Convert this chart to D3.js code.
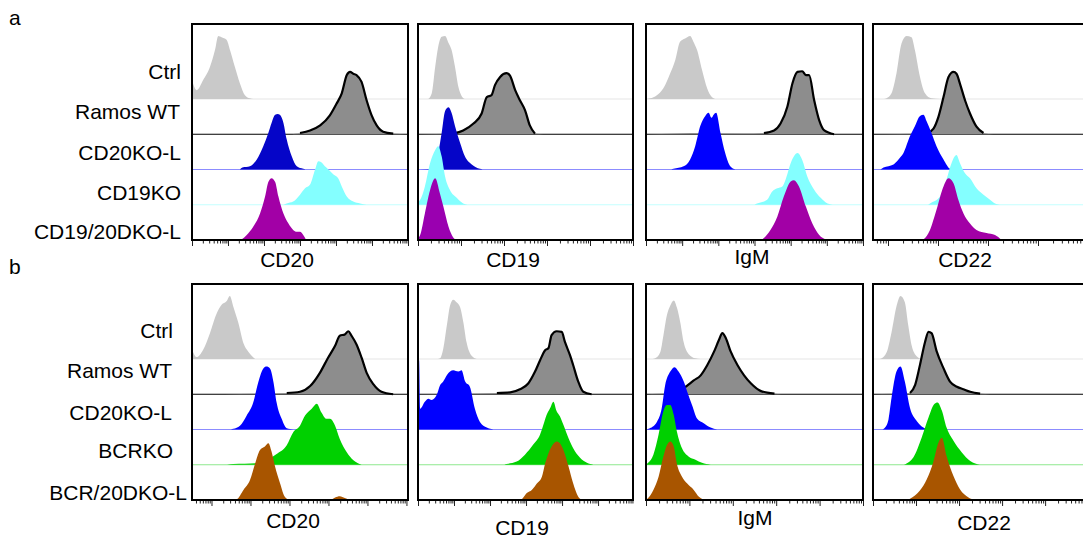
<!DOCTYPE html>
<html><head><meta charset="utf-8">
<script src="https://cdn.jsdelivr.net/npm/d3@7"></script>
<style>body{margin:0;background:#fff}text{font-family:"Liberation Sans",Arial,Helvetica,sans-serif;fill:#000}</style>
</head><body>
<script>
// ---------- categories / labels ----------
const lanesA = ["Ctrl","Ramos WT","CD20KO-L","CD19KO","CD19/20DKO-L"];
const lanesB = ["Ctrl","Ramos WT","CD20KO-L","BCRKO","BCR/20DKO-L"];
const markers = ["CD20","CD19","IgM","CD22"];
// x domains in log10 fluorescence units per panel
const domainsA = [[1,7],[2,7],[1,7],[1.7,6.02]];
const domainsB = [[1.5,7.04],[1,6.97],[2,7],[2,7.02]];
const minorMultipliers = [2,3,4,5,6,7,8,9];

// ---------- histograms: [log10 intensity, % of max] ----------
// Row a, CD20
const a1_ctrl = [[1.0,30],[1.13,14],[1.31,30],[1.50,51],[1.64,78],[1.73,100],[1.82,98],[1.96,94],[2.06,77],[2.19,51],[2.33,25],[2.47,6],[2.61,1],[2.70,0]];
const a1_ramos = [[1.0,0],[3.72,0],[4.00,2],[4.28,6],[4.56,14],[4.83,30],[5.02,49],[5.16,65],[5.30,94],[5.39,99],[5.48,96],[5.57,94],[5.71,83],[5.85,54],[5.99,30],[6.13,14],[6.31,4],[6.59,1],[7.0,0]];
const a1_cd20ko = [[2.33,0],[2.40,3],[2.61,5],[2.80,16],[2.98,37],[3.12,58],[3.21,74],[3.31,87],[3.38,88],[3.44,87],[3.54,74],[3.63,48],[3.77,21],[3.91,5],[4.09,1],[4.15,0]];
const a1_cd19ko = [[3.55,0],[3.63,2],[3.81,5],[4.00,16],[4.14,26],[4.28,32],[4.42,56],[4.51,69],[4.60,67],[4.69,61],[4.79,56],[4.93,48],[5.06,42],[5.16,29],[5.30,13],[5.48,5],[5.67,2],[5.85,0]];
const a1_dko = [[2.33,0],[2.38,1],[2.52,8],[2.70,21],[2.89,42],[3.03,69],[3.12,92],[3.21,98],[3.31,92],[3.40,69],[3.54,42],[3.68,26],[3.81,16],[3.91,13],[4.00,13],[4.09,8],[4.17,0]];
// Row a, CD19
const a2_ctrl = [[2.24,0],[2.32,9],[2.40,51],[2.47,83],[2.55,99],[2.63,100],[2.71,89],[2.78,78],[2.86,51],[2.94,19],[3.02,4],[3.09,0]];
const a2_ramos = [[2.0,0],[2.82,1],[3.05,6],[3.29,17],[3.48,33],[3.60,59],[3.71,62],[3.79,78],[3.91,91],[4.06,97],[4.14,93],[4.26,70],[4.37,54],[4.49,38],[4.60,14],[4.72,1],[4.91,0],[7.0,0]];
const a2_cd20ko = [[2.05,0],[2.36,1],[2.47,26],[2.55,58],[2.63,93],[2.71,99],[2.78,90],[2.86,69],[2.98,42],[3.09,21],[3.25,8],[3.44,1],[3.50,0]];
const a2_cd19ko = [[2.0,5],[2.05,8],[2.16,29],[2.28,66],[2.40,87],[2.47,93],[2.55,77],[2.63,45],[2.74,24],[2.90,11],[3.05,2],[3.15,0]];
const a2_dko = [[2.0,3],[2.05,8],[2.16,42],[2.28,79],[2.40,98],[2.51,74],[2.59,53],[2.71,21],[2.82,4],[2.90,0]];
// Row a, IgM
const a3_ctrl = [[1.0,0],[1.11,1],[1.30,6],[1.48,17],[1.67,41],[1.81,62],[1.94,91],[2.08,96],[2.22,100],[2.31,91],[2.41,78],[2.55,46],[2.69,17],[2.82,3],[2.92,0]];
const a3_ramos = [[1.0,0],[1.85,1],[2.22,2],[3.70,1],[4.26,2],[4.54,6],[4.72,17],[4.91,44],[5.05,81],[5.19,99],[5.32,100],[5.42,94],[5.51,94],[5.65,54],[5.79,22],[5.93,6],[6.20,0],[7.0,0]];
const a3_cd20ko = [[1.70,0],[1.76,1],[2.04,5],[2.22,16],[2.36,37],[2.50,69],[2.64,85],[2.73,90],[2.81,82],[2.87,87],[2.94,90],[3.06,58],[3.19,26],[3.33,5],[3.47,0]];
const a3_cd19ko = [[4.00,0],[4.07,2],[4.35,8],[4.49,21],[4.63,26],[4.77,29],[4.86,40],[5.00,66],[5.19,82],[5.32,71],[5.46,45],[5.65,24],[5.83,11],[6.02,2],[6.16,0]];
const a3_dko = [[4.20,0],[4.26,3],[4.44,16],[4.63,37],[4.81,69],[5.00,93],[5.09,95],[5.23,85],[5.42,53],[5.60,26],[5.79,8],[5.97,1],[6.05,0]];
// Row a, CD22
const a4_ctrl = [[1.92,0],[1.97,1],[2.07,9],[2.17,41],[2.27,88],[2.37,100],[2.47,98],[2.54,77],[2.64,35],[2.74,9],[2.87,1],[3.04,0]];
const a4_ramos = [[1.7,0],[2.77,1],[2.91,9],[3.01,28],[3.11,59],[3.21,91],[3.31,99],[3.37,96],[3.44,80],[3.54,54],[3.64,33],[3.77,12],[3.91,2],[4.11,0],[6.1,0]];
const a4_cd20ko = [[1.85,0],[1.91,3],[2.11,8],[2.21,16],[2.31,26],[2.44,53],[2.54,69],[2.64,85],[2.71,87],[2.77,77],[2.87,58],[2.97,37],[3.11,16],[3.24,1],[3.28,0]];
const a4_cd19ko = [[2.80,0],[2.84,2],[3.04,13],[3.17,40],[3.27,66],[3.37,79],[3.44,66],[3.54,50],[3.64,42],[3.77,26],[3.91,16],[4.04,8],[4.14,2],[4.24,0]];
const a4_dko = [[2.68,0],[2.71,1],[2.84,16],[2.97,48],[3.11,85],[3.21,98],[3.31,90],[3.41,63],[3.51,42],[3.64,26],[3.77,16],[3.97,11],[4.14,8],[4.27,0]];
// Row b, CD20
const b1_ctrl = [[1.5,15],[1.62,3],[1.79,15],[1.96,41],[2.13,72],[2.26,86],[2.39,92],[2.47,100],[2.56,83],[2.69,57],[2.82,25],[2.94,12],[3.12,0]];
const b1_ramos = [[1.5,0],[3.93,2],[4.27,4],[4.53,13],[4.78,34],[4.99,58],[5.17,77],[5.29,93],[5.42,95],[5.51,100],[5.59,93],[5.72,79],[5.85,58],[5.98,34],[6.15,16],[6.36,4],[6.66,0],[7.04,0]];
const b1_cd20ko = [[2.50,0],[2.56,1],[2.73,6],[2.90,22],[3.07,43],[3.20,75],[3.33,97],[3.41,100],[3.50,97],[3.59,75],[3.67,43],[3.80,17],[3.93,2],[4.10,0]];
const b1_bcrko = [[2.40,0],[2.56,1],[3.24,3],[3.50,10],[3.67,17],[3.93,31],[4.10,52],[4.27,62],[4.40,78],[4.57,89],[4.70,97],[4.82,83],[4.95,73],[5.04,73],[5.17,62],[5.29,41],[5.47,20],[5.64,7],[5.85,0]];
const b1_dko = [[2.60,0],[2.65,1],[2.82,16],[2.99,32],[3.12,58],[3.24,79],[3.37,85],[3.46,90],[3.54,77],[3.63,53],[3.76,26],[3.88,5],[4.01,0],[5.04,0],[5.17,4],[5.29,6],[5.42,3],[5.55,0]];
// Row b, CD19
const b2_ctrl = [[1.55,0],[1.61,1],[1.70,16],[1.80,53],[1.89,85],[1.98,94],[2.07,90],[2.17,82],[2.26,58],[2.35,26],[2.49,5],[2.63,0]];
const b2_ramos = [[1.0,0],[3.19,2],[3.56,3],[3.83,8],[4.06,17],[4.25,36],[4.39,54],[4.53,70],[4.62,73],[4.71,94],[4.85,100],[4.99,99],[5.08,83],[5.22,62],[5.31,46],[5.45,20],[5.59,4],[5.82,0],[6.97,0]];
const b2_cd20ko = [[1.0,30],[1.03,110],[1.06,33],[1.19,44],[1.29,49],[1.38,47],[1.52,55],[1.61,70],[1.70,76],[1.80,86],[1.89,92],[1.98,94],[2.12,92],[2.21,94],[2.31,76],[2.44,68],[2.58,33],[2.72,12],[2.91,3],[3.09,0]];
const b2_bcrko = [[3.40,0],[3.46,1],[3.74,5],[3.97,16],[4.20,32],[4.39,48],[4.48,63],[4.57,79],[4.67,90],[4.76,100],[4.85,85],[4.94,77],[5.04,63],[5.18,42],[5.31,26],[5.50,11],[5.69,3],[5.87,0]];
const b2_dko = [[3.85,0],[3.88,1],[4.02,11],[4.16,16],[4.30,26],[4.44,37],[4.53,58],[4.62,74],[4.71,85],[4.85,93],[4.94,90],[5.04,79],[5.18,53],[5.31,26],[5.45,5],[5.55,0]];
// Row b, IgM
const b3_ctrl = [[2.15,0],[2.21,1],[2.33,11],[2.40,37],[2.48,69],[2.56,85],[2.64,93],[2.71,82],[2.79,58],[2.87,26],[2.98,8],[3.14,1],[3.26,0]];
const b3_ramos = [[2.0,0],[2.56,2],[2.87,10],[3.10,22],[3.26,30],[3.41,46],[3.57,68],[3.68,86],[3.76,97],[3.84,89],[3.95,68],[4.11,46],[4.26,30],[4.42,17],[4.65,5],[4.96,1],[5.12,0],[7.0,0]];
const b3_cd20ko = [[2.0,0],[2.09,2],[2.25,12],[2.36,33],[2.44,70],[2.56,92],[2.66,99],[2.75,92],[2.87,76],[2.95,60],[3.06,39],[3.18,17],[3.33,10],[3.49,3],[3.64,0]];
const b3_bcrko = [[2.0,0],[2.05,3],[2.17,16],[2.29,48],[2.40,85],[2.48,95],[2.56,95],[2.64,79],[2.71,53],[2.83,26],[2.98,13],[3.14,8],[3.29,3],[3.49,0]];
const b3_dko = [[2.0,0],[2.05,3],[2.17,16],[2.29,37],[2.40,69],[2.48,87],[2.56,93],[2.64,85],[2.71,58],[2.83,37],[2.95,26],[3.10,16],[3.22,5],[3.37,0]];
// Row b, CD22
const b4_ctrl = [[2.15,0],[2.20,1],[2.32,11],[2.43,42],[2.55,85],[2.64,100],[2.74,90],[2.82,53],[2.90,21],[3.02,4],[3.13,0]];
const b4_ramos = [[2.0,0],[2.86,2],[2.98,15],[3.09,46],[3.21,83],[3.29,99],[3.36,97],[3.48,68],[3.64,41],[3.79,20],[3.95,12],[4.10,8],[4.26,4],[4.49,1],[4.72,0],[7.02,0]];
const b4_cd20ko = [[2.22,0],[2.28,3],[2.36,16],[2.43,50],[2.55,93],[2.64,100],[2.74,76],[2.86,34],[3.02,13],[3.17,3],[3.29,0]];
const b4_bcrko = [[2.72,0],[2.78,2],[2.94,12],[3.13,43],[3.29,75],[3.42,96],[3.50,99],[3.60,86],[3.71,59],[3.87,38],[4.06,20],[4.26,6],[4.49,0]];
const b4_dko = [[2.80,0],[2.86,2],[3.09,15],[3.25,33],[3.40,60],[3.52,91],[3.60,99],[3.71,70],[3.87,38],[4.02,17],[4.22,4],[4.37,0]];

// ---------- build tables ----------
const panelsA = [
  [a1_ctrl,a1_ramos,a1_cd20ko,a1_cd19ko,a1_dko],
  [a2_ctrl,a2_ramos,a2_cd20ko,a2_cd19ko,a2_dko],
  [a3_ctrl,a3_ramos,a3_cd20ko,a3_cd19ko,a3_dko],
  [a4_ctrl,a4_ramos,a4_cd20ko,a4_cd19ko,a4_dko]];
const panelsB = [
  [b1_ctrl,b1_ramos,b1_cd20ko,b1_bcrko,b1_dko],
  [b2_ctrl,b2_ramos,b2_cd20ko,b2_bcrko,b2_dko],
  [b3_ctrl,b3_ramos,b3_cd20ko,b3_bcrko,b3_dko],
  [b4_ctrl,b4_ramos,b4_cd20ko,b4_bcrko,b4_dko]];

// styles
const fillsA = [
  ["#c9c9c9","#8d8d8d","#0505c8","#84ffff","#a200a6"],
  ["#c9c9c9","#8d8d8d","#0505c8","#84ffff","#9a00b0"],
  ["#c9c9c9","#8d8d8d","#0000ff","#84ffff","#a200a6"],
  ["#c9c9c9","#8d8d8d","#0000ff","#84ffff","#a200a6"]];
const fillsB = ["#c9c9c9","#8d8d8d","#0000ff","#00d000","#a85500"];
const baseLinesA = ["#e6e6e6","#000","#8c8cff","#c4ffff",null];
const baseLinesB = ["#e6e6e6","#000","#8c8cff","#8ee88e",null];

const rows = [
  {panels:panelsA, domains:domainsA, fills:fillsA, baseLines:baseLinesA, lanes:lanesA,
   letter:"a", letterY:25, labelRight:[181,180,181,181,181], labelY:[79,119,160,200,239],
   titleX:[287,513,752,965], titleY:[267,267,264,267]},
  {panels:panelsB, domains:domainsB, fills:[fillsB,fillsB,fillsB,fillsB], baseLines:baseLinesB, lanes:lanesB,
   letter:"b", letterY:274, labelRight:[173,172,172,173,187], labelY:[338,378,420,458,500],
   titleX:[293,522,755,984], titleY:[528,535,525,530]}
];

// ---------- layout ----------
const W = 1083, H = 544;
const panelLeft = [192,418,646,873];
const panelWidth = [216,215,217,216];
const rowTop = [24,284];
const panelH = 216;
const firstBase = 75, laneStep = 35.25;
const hScale = d3.scaleLinear().domain([0,100]).range([0,63]);

const svg = d3.select("body").append("svg").attr("width",W).attr("height",H);
svg.append("rect").attr("width",W).attr("height",H).attr("fill","#fff");

rows.forEach((row,r)=>{
  const top = rowTop[r];
  svg.append("text").attr("x",9).attr("y",row.letterY).attr("font-size",21).text(row.letter);
  row.lanes.forEach((lab,i)=>{
    svg.append("text").attr("x",row.labelRight[i]).attr("y",row.labelY[i])
      .attr("text-anchor","end").attr("font-size",21).text(lab);
  });
  row.panels.forEach((hists,p)=>{
    const x0 = panelLeft[p], w = panelWidth[p];
    const dom = row.domains[p];
    const x = d3.scaleLinear().domain(dom).range([x0,x0+w]);
    const id = `clip${r}${p}`;
    svg.append("clipPath").attr("id",id).append("rect")
      .attr("x",x0).attr("y",top).attr("width",w).attr("height",panelH);
    const g = svg.append("g").attr("clip-path",`url(#${id})`);
    hists.forEach((data,i)=>{
      const base = top + firstBase + i*laneStep;
      const bl = row.baseLines[i];
      if (bl) g.append("line").attr("x1",x0).attr("x2",x0+w).attr("y1",base).attr("y2",base)
          .attr("stroke",bl).attr("stroke-width",1.2);
      const area = d3.area().x(d=>x(d[0])).y0(base).y1(d=>base-hScale(d[1])).curve(d3.curveMonotoneX);
      g.append("path").datum(data).attr("d",area).attr("fill",row.fills[p][i]);
      if (i===1) {
        // bold outline only over the peak part of the histogram; flat tails stay thin
        const first = Math.max(0, data.findIndex(d=>d[1]>=3)-1);
        let last = data.length-1;
        while (last>0 && data[last-1][1]<3) last--;
        const part = data.slice(first, last+1);
        const line = d3.line().x(d=>x(d[0])).y(d=>base-hScale(d[1])).curve(d3.curveMonotoneX);
        g.append("path").datum(part).attr("d",line)
          .attr("fill","none").attr("stroke","#000").attr("stroke-width",2.2).attr("stroke-linejoin","round");
      }
    });
    // frame
    svg.append("rect").attr("x",x0).attr("y",top).attr("width",w).attr("height",panelH)
      .attr("fill","none").attr("stroke","#000").attr("stroke-width",2);
    // ticks
    const majors = d3.range(Math.ceil(dom[0]), Math.floor(dom[1])+1);
    const minors = [];
    d3.range(Math.floor(dom[0]), Math.floor(dom[1])+1).forEach(dec=>{
      minorMultipliers.forEach(k=>{
        const v = dec + Math.log10(k);
        if (v>dom[0] && v<dom[1]) minors.push(v);
      });
    });
    const ay = top + panelH + 1;
    const gMaj = svg.append("g").attr("transform",`translate(0,${ay})`)
      .call(d3.axisBottom(x).tickValues(majors).tickSize(5).tickFormat(""));
    const gMin = svg.append("g").attr("transform",`translate(0,${ay})`)
      .call(d3.axisBottom(x).tickValues(minors).tickSize(2.5).tickFormat(""));
    [gMaj,gMin].forEach(gg=>{gg.select(".domain").remove(); gg.selectAll("line").attr("stroke","#222").attr("stroke-width",1);});
    // axis title
    svg.append("text").attr("x",row.titleX[p]).attr("y",row.titleY[p])
      .attr("text-anchor","middle").attr("font-size",21).text(markers[p]);
  });
});
</script>
</body></html>
